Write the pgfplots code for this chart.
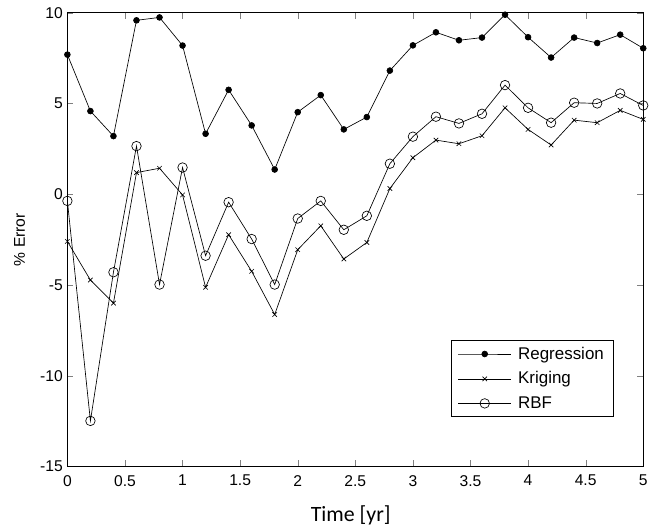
\documentclass[border=0pt]{standalone}
\usepackage{pgfplots}
\pgfplotsset{compat=1.18}
\usepackage{fontspec}
\setmainfont{Liberation Sans}
\newfontfamily\carlito{Carlito}
\begin{document}
\begin{tikzpicture}
\begin{axis}[
    scale only axis,
    width=435pt, height=342.75pt,
    xmin=0, xmax=5, ymin=-15, ymax=10,
    xtick={0,0.5,...,5}, ytick={-15,-10,...,10},
    tick pos=both, tick align=inside,
    major tick length=4.5pt,
    /pgf/number format/assume math mode=true,
    ticklabel style={font=\fontsize{11.8}{13}\selectfont},
    xticklabel style={yshift=-3pt},
    xlabel={\carlito Time [yr]},
    xlabel style={at={(rel axis cs:0.492,0)}, anchor=base, yshift=-41.25pt, font=\fontsize{16.5}{18}\selectfont},
    ylabel={\% Error},
    ylabel style={at={(rel axis cs:-0.083,0.5)}, anchor=center, font=\fontsize{11.8}{13}\selectfont},
    every axis plot/.append style={black, line width=0.5pt},
    legend cell align=left,
    legend image code/.code={\draw[mark repeat=2,mark phase=2,#1] plot coordinates {(0pt,0pt) (20pt,0pt) (40pt,0pt)};},
    legend style={at={(rel axis cs:0.666,0.279)}, anchor=north west, draw=black, line width=0.6pt,
        font=\fontsize{12.8}{15}\selectfont, inner xsep=5pt, inner ysep=3pt, row sep=4pt,
        /tikz/every odd column/.append style={column sep=3pt}},
    clip=false,
]
\path (rel axis cs:-0.117,-0.138) rectangle (rel axis cs:1.007,1.028);
% Regression
\addplot[mark=*, mark size=2.2pt] coordinates {
(0,7.69)(0.2,4.58)(0.4,3.2)(0.6,9.58)(0.8,9.74)(1.0,8.19)(1.2,3.33)(1.4,5.75)(1.6,3.79)(1.8,1.36)
(2.0,4.52)(2.2,5.46)(2.4,3.57)(2.6,4.25)(2.8,6.81)(3.0,8.2)(3.2,8.92)(3.4,8.48)(3.6,8.63)(3.8,9.89)
(4.0,8.65)(4.2,7.53)(4.4,8.63)(4.6,8.33)(4.8,8.79)(5.0,8.04)};
% Kriging
\addplot[mark=x, mark size=2.4pt] coordinates {
(0,-2.6)(0.2,-4.73)(0.4,-6.0)(0.6,1.19)(0.8,1.43)(1.0,-0.04)(1.2,-5.13)(1.4,-2.23)(1.6,-4.25)(1.8,-6.63)
(2.0,-3.06)(2.2,-1.74)(2.4,-3.57)(2.6,-2.66)(2.8,0.31)(3.0,2.01)(3.2,2.98)(3.4,2.78)(3.6,3.22)(3.8,4.76)
(4.0,3.57)(4.2,2.71)(4.4,4.08)(4.6,3.94)(4.8,4.62)(5.0,4.12)};
% RBF
\addplot[mark=o, mark size=3.6pt] coordinates {
(0,-0.37)(0.2,-12.49)(0.4,-4.3)(0.6,2.65)(0.8,-4.98)(1.0,1.47)(1.2,-3.39)(1.4,-0.44)(1.6,-2.47)(1.8,-4.98)
(2.0,-1.34)(2.2,-0.37)(2.4,-1.96)(2.6,-1.19)(2.8,1.68)(3.0,3.17)(3.2,4.27)(3.4,3.9)(3.6,4.43)(3.8,6.01)
(4.0,4.76)(4.2,3.94)(4.4,5.04)(4.6,5.0)(4.8,5.55)(5.0,4.89)};
\legend{Regression,Kriging,RBF}
\end{axis}
\end{tikzpicture}
\end{document}
